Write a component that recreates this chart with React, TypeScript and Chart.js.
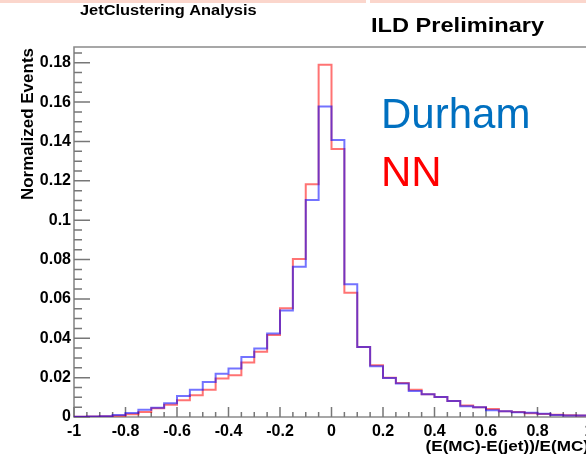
import React, { useEffect, useRef } from 'react';
import { Chart, registerables } from 'chart.js';

Chart.register(...registerables);

// Bin edges (bin width 0.05), from -1 to 1
const binEdges = [
  -1, -0.95, -0.9, -0.85, -0.8, -0.75, -0.7, -0.65, -0.6, -0.55,
  -0.5, -0.45, -0.4, -0.35, -0.3, -0.25, -0.2, -0.15, -0.1, -0.05,
  0, 0.05, 0.1, 0.15, 0.2, 0.25, 0.3, 0.35, 0.4, 0.45,
  0.5, 0.55, 0.6, 0.65, 0.7, 0.75, 0.8, 0.85, 0.9, 0.95, 1,
];

// Durham (blue) normalized events per bin
const durham = [
  0.0001, 0.0003, 0.0004, 0.001, 0.002, 0.0037, 0.0047, 0.007, 0.0107, 0.0139,
  0.0178, 0.022, 0.0246, 0.0305, 0.0348, 0.0424, 0.0541, 0.0763, 0.1103, 0.1578,
  0.1408, 0.0675, 0.0356, 0.0258, 0.0198, 0.017, 0.0132, 0.0116, 0.0102, 0.0081,
  0.0054, 0.0049, 0.0034, 0.0029, 0.0024, 0.0022, 0.0017, 0.001, 0.0008, 0.0007,
];

// NN (red) normalized events per bin
const nn = [
  0.0001, 0.0003, 0.0004, 0.0006, 0.0014, 0.0025, 0.0044, 0.0062, 0.0085, 0.011,
  0.0139, 0.0195, 0.0212, 0.0277, 0.0331, 0.0417, 0.0552, 0.0803, 0.1183, 0.179,
  0.1362, 0.0631, 0.0356, 0.0263, 0.0199, 0.0173, 0.0139, 0.0116, 0.0102, 0.0081,
  0.0058, 0.0049, 0.0041, 0.0029, 0.0026, 0.0019, 0.0015, 0.0012, 0.0009, 0.0007,
];

const xTicks = [-1, -0.8, -0.6, -0.4, -0.2, 0, 0.2, 0.4, 0.6, 0.8, 1];
const yTicks = [0, 0.02, 0.04, 0.06, 0.08, 0.1, 0.12, 0.14, 0.16, 0.18];

const toSteps = (vals: number[]) =>
  binEdges.map((x, i) => ({ x, y: vals[Math.min(i, vals.length - 1)] }));

const fmt = (v: number | string) => String(Math.round(Number(v) * 100) / 100);

const FONT = '"Liberation Sans", Arial, sans-serif';

function stretched(ctx: any, text: string, x: number, y: number, sx: number, align: string) {
  ctx.save();
  ctx.translate(x, y);
  ctx.scale(sx, 1);
  ctx.textAlign = align;
  ctx.fillText(text, 0, 0);
  ctx.restore();
}

const decor = {
  id: 'decor',
  beforeDatasetsDraw(chart: any) {
    const { ctx, chartArea: a, scales } = chart;
    const xs = scales.x;
    const ys = scales.y;
    ctx.save();
    ctx.strokeStyle = '#8a8a8a';
    ctx.lineWidth = 1.6;
    ctx.beginPath();
    ctx.moveTo(a.left, a.top);
    ctx.lineTo(a.right, a.top);
    ctx.lineTo(a.right, a.bottom);
    ctx.lineTo(a.left, a.bottom);
    ctx.closePath();
    ctx.stroke();
    ctx.strokeStyle = '#777';
    ctx.lineWidth = 1.5;
    ctx.beginPath();
    for (let k = 0; k <= 37; k++) {
      const p = ys.getPixelForValue(k * 0.005);
      const len = k % 4 === 0 ? 16 : 8;
      ctx.moveTo(a.left, p);
      ctx.lineTo(a.left + len, p);
    }
    for (let k = 0; k <= 40; k++) {
      const p = xs.getPixelForValue(-1 + k * 0.05);
      const len = k % 4 === 0 ? 10 : 5;
      ctx.moveTo(p, a.bottom);
      ctx.lineTo(p, a.bottom - len);
    }
    ctx.stroke();
    ctx.restore();
  },
  afterDraw(chart: any) {
    const { ctx, chartArea: a } = chart;
    ctx.save();
    // pink slide strips at top
    ctx.fillStyle = '#fbd6cc';
    ctx.fillRect(0, 0, 366, 3);
    ctx.fillRect(370, 0, 300, 3);

    ctx.fillStyle = '#000';
    ctx.textBaseline = 'alphabetic';
    ctx.font = `bold 14px ${FONT}`;
    stretched(ctx, 'JetClustering Analysis', 80, 15, 1.17, 'left');
    ctx.font = `bold 20px ${FONT}`;
    stretched(ctx, 'ILD Preliminary', 371, 32, 1.18, 'left');

    ctx.textAlign = 'left';
    ctx.font = `42px ${FONT}`;
    ctx.fillStyle = '#0070C0';
    ctx.fillText('Durham', 381, 128);
    ctx.fillStyle = '#FF0000';
    ctx.fillText('NN', 381, 186);

    ctx.fillStyle = '#000';
    ctx.font = `bold 14.5px ${FONT}`;
    stretched(ctx, '(E(MC)-E(jet))/E(MC)', a.right, 451, 1.18, 'right');

    ctx.font = `bold 17px ${FONT}`;
    ctx.translate(33, a.top + 1);
    ctx.rotate(-Math.PI / 2);
    ctx.textAlign = 'right';
    ctx.fillText('Normalized Events', 0, 0);
    ctx.restore();
  },
};

export default function App() {
  const ref = useRef<HTMLCanvasElement>(null);
  useEffect(() => {
    if (!ref.current) return;
    const chart = new Chart(ref.current, {
      type: 'line',
      data: {
        datasets: [
          {
            label: 'Durham',
            data: toSteps(durham),
            borderColor: 'rgba(0,0,255,0.55)',
            borderWidth: 2,
            stepped: true,
            pointRadius: 0,
            fill: false,
          },
          {
            label: 'NN',
            data: toSteps(nn),
            borderColor: 'rgba(255,0,0,0.55)',
            borderWidth: 2,
            stepped: true,
            pointRadius: 0,
            fill: false,
          },
        ],
      },
      options: {
        animation: false,
        responsive: false,
        events: [],
        layout: { padding: { top: 47, right: 11, left: 0, bottom: 0 } },
        plugins: {
          legend: { display: false },
          tooltip: { enabled: false },
          title: { display: false },
        },
        scales: {
          x: {
            type: 'linear',
            min: -1,
            max: 1,
            afterBuildTicks: (s: any) => {
              s.ticks = xTicks.map((v) => ({ value: v }));
            },
            afterFit: (s: any) => {
              s.height = 38;
            },
            grid: { display: false, drawTicks: false },
            border: { display: false },
            ticks: {
              autoSkip: false,
              maxRotation: 0,
              padding: 5,
              color: '#000',
              font: { family: FONT, weight: 'bold', size: 16 },
              callback: (v: any) => fmt(v),
            },
          },
          y: {
            type: 'linear',
            min: 0,
            max: 0.188,
            afterBuildTicks: (s: any) => {
              s.ticks = yTicks.map((v) => ({ value: v }));
            },
            afterFit: (s: any) => {
              s.width = 74;
            },
            grid: { display: false, drawTicks: false },
            border: { display: false },
            ticks: {
              autoSkip: false,
              padding: 3,
              color: '#000',
              font: { family: FONT, weight: 'bold', size: 16 },
              callback: (v: any) => fmt(v),
            },
          },
        },
      },
      plugins: [decor],
    } as any);
    return () => chart.destroy();
  }, []);

  return (
    <div
      style={{
        position: 'fixed',
        left: 0,
        top: 0,
        width: 586,
        height: 455,
        overflow: 'hidden',
        background: '#fff',
      }}
    >
      <canvas ref={ref} width={600} height={455} style={{ display: 'block' }} />
    </div>
  );
}
